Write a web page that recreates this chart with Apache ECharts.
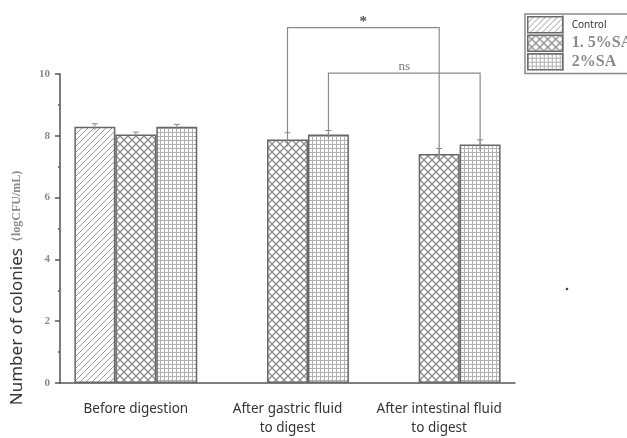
<!DOCTYPE html>
<html>
<head>
<meta charset="utf-8">
<script src="https://cdn.jsdelivr.net/npm/echarts@6/dist/echarts.min.js"></script>
<style>
  html, body { margin: 0; padding: 0; background: #fff; }
  #chart { width: 627px; height: 438px; }
</style>
</head>
<body>
<div id="chart"></div>
<script>
// Viable colony counts (logCFU/mL) through simulated digestion
const categories = ['Before digestion', 'After gastric fluid\nto digest', 'After intestinal fluid\nto digest'];
const seriesNames = ['Control', '1. 5%SA', '2%SA'];
const controlValues = [8.29, null, null];
const sa15Values = [8.04, 7.88, 7.41];
const sa2Values = [8.29, 8.04, 7.72];
const controlErrors = [0.1, null, null];
const sa15Errors = [0.08, 0.22, 0.18];
const sa2Errors = [0.08, 0.13, 0.15];
const yTickValues = [0, 2, 4, 6, 8, 10];

// Significance brackets: [category, series index] at each end
const bracketLabels = ['*', 'ns'];
const bracketFrom = [[1, 1], [1, 2]];
const bracketTo = [[2, 1], [2, 2]];
const bracketLevels = [11.5, 10.03];
const bracketFromEnds = [7.7, 7.9];
const bracketToEnds = [7.2, 7.5];

const BAR_FRACTION = 0.27;

// Hatch fills drawn on small canvas tiles
function makeTile(size, draw) {
  const c = document.createElement('canvas');
  c.width = size; c.height = size;
  const ctx = c.getContext('2d');
  ctx.fillStyle = '#ffffff';
  ctx.fillRect(0, 0, size, size);
  draw(ctx, size);
  return { image: c, repeat: 'repeat' };
}
const diagonalFill = makeTile(6, function (ctx, s) {
  ctx.strokeStyle = '#9a9a9a';
  ctx.lineWidth = 1;
  ctx.beginPath();
  ctx.moveTo(-1, s + 1); ctx.lineTo(s + 1, -1);
  ctx.moveTo(-1, 1); ctx.lineTo(1, -1);
  ctx.moveTo(s - 1, s + 1); ctx.lineTo(s + 1, s - 1);
  ctx.stroke();
});
const crossFill = makeTile(8, function (ctx, s) {
  ctx.strokeStyle = '#8c8c8c';
  ctx.lineWidth = 1.3;
  ctx.beginPath();
  ctx.moveTo(0, 0); ctx.lineTo(s, s);
  ctx.moveTo(0, s); ctx.lineTo(s, 0);
  ctx.stroke();
});
const gridFill = makeTile(4, function (ctx, s) {
  ctx.fillStyle = '#b0b0b0';
  ctx.fillRect(0, 0, s, 1);
  ctx.fillRect(0, 0, 1, s);
});
const fills = [diagonalFill, crossFill, gridFill];
const valueSets = [controlValues, sa15Values, sa2Values];
const errorSets = [controlErrors, sa15Errors, sa2Errors];

function barCenter(api, cat, idx, val) {
  const p = api.coord([cat, val]);
  const band = api.size([1, 0])[0];
  return [p[0] + (idx - 1) * band * BAR_FRACTION, p[1]];
}

const barSeries = seriesNames.map(function (name, i) {
  return {
    name: name,
    type: 'bar',
    barWidth: (BAR_FRACTION * 100) + '%',
    barGap: '0%',
    data: valueSets[i],
    itemStyle: { color: fills[i], borderColor: '#666', borderWidth: 1.5 },
    emphasis: { disabled: true },
    z: 2
  };
});

const errorSeries = seriesNames.map(function (name, i) {
  const data = [];
  valueSets[i].forEach(function (v, c) {
    if (v != null) data.push([c, v, errorSets[i][c]]);
  });
  return {
    type: 'custom',
    data: data,
    z: 4,
    silent: true,
    renderItem: function (params, api) {
      const c = api.value(0), v = api.value(1), e = api.value(2);
      const top = barCenter(api, c, i, v + e);
      const bot = barCenter(api, c, i, v - e);
      const w = 3;
      return {
        type: 'group',
        children: [
          { type: 'line', shape: { x1: top[0], y1: top[1], x2: bot[0], y2: bot[1] }, style: { stroke: '#888', lineWidth: 1 } },
          { type: 'line', shape: { x1: top[0] - w, y1: top[1], x2: top[0] + w, y2: top[1] }, style: { stroke: '#888', lineWidth: 1 } }
        ]
      };
    }
  };
});

const bracketData = bracketLabels.map(function (lbl, k) {
  return [bracketFrom[k][0], bracketFrom[k][1], bracketTo[k][0], bracketTo[k][1],
          bracketLevels[k], bracketFromEnds[k], bracketToEnds[k], k];
});

const bracketSeries = {
  type: 'custom',
  data: bracketData,
  clip: false,
  silent: true,
  z: 5,
  renderItem: function (params, api) {
    const a = barCenter(api, api.value(0), api.value(1), api.value(5));
    const b = barCenter(api, api.value(2), api.value(3), api.value(6));
    const topY = api.coord([0, api.value(4)])[1];
    const k = api.value(7);
    const isStar = bracketLabels[k] === '*';
    return {
      type: 'group',
      children: [
        { type: 'polyline', shape: { points: [[a[0], a[1]], [a[0], topY], [b[0], topY], [b[0], b[1]]] },
          style: { stroke: '#8a8a8a', lineWidth: 1.2, fill: null } },
        { type: 'text', style: {
            text: bracketLabels[k], x: (a[0] + b[0]) / 2, y: topY - (isStar ? 6 : 6),
            align: 'center', verticalAlign: 'middle',
            font: isStar ? 'bold 15px "Liberation Serif"' : '13px "Liberation Serif"',
            fill: isStar ? '#555' : '#777' } }
      ]
    };
  }
};

const chart = echarts.init(document.getElementById('chart'), null, { renderer: 'canvas' });
chart.setOption({
  animation: false,
  backgroundColor: '#ffffff',
  grid: { left: 60, right: 112, top: 74, bottom: 48, containLabel: false },
  legend: {
    orient: 'vertical',
    left: 525, top: 14,
    padding: [2, 60, 3, 2],
    itemGap: 1,
    itemWidth: 35, itemHeight: 16,
    icon: 'rect',
    borderColor: '#8a8a8a', borderWidth: 1.5,
    selectedMode: false,
    data: [
      { name: 'Control', textStyle: { fontFamily: 'Noto Sans', fontSize: 10, color: '#333', padding: [0, 0, 0, 4] } },
      { name: '1. 5%SA', textStyle: { fontFamily: 'Liberation Serif', fontSize: 16, fontWeight: 'bold', color: '#8a8a8a', padding: [0, 0, 0, 4] } },
      { name: '2%SA', textStyle: { fontFamily: 'Liberation Serif', fontSize: 16, fontWeight: 'bold', color: '#8a8a8a', padding: [0, 0, 0, 4] } }
    ],
    itemStyle: { borderColor: '#6a6a6a', borderWidth: 1.5 }
  },
  xAxis: {
    type: 'category',
    data: categories,
    axisLine: { lineStyle: { color: '#555', width: 1.5 } },
    axisTick: { show: false },
    axisLabel: { color: '#333', fontFamily: 'Noto Sans', fontSize: 13.5, lineHeight: 19, margin: 17, interval: 0 }
  },
  yAxis: {
    type: 'value',
    min: yTickValues[0], max: yTickValues[yTickValues.length - 1], interval: 2,
    axisLine: { show: true, lineStyle: { color: '#555', width: 1.5 } },
    axisTick: { show: true, length: 5, lineStyle: { color: '#555', width: 1.5 } },
    minorTick: { show: true, splitNumber: 2, length: 2, lineStyle: { color: '#555', width: 1.5 } },
    splitLine: { show: false },
    axisLabel: { color: '#8a8a8a', fontFamily: 'Liberation Serif', fontWeight: 'bold', fontSize: 11, margin: 10 }
  },
  series: barSeries.concat(errorSeries, [bracketSeries]),
  graphic: [
    {
      type: 'text',
      x: 17, y: 288,
      rotation: Math.PI / 2,
      style: {
        text: '{a|Number of colonies}{b|（logCFU/mL)}',
        align: 'center', verticalAlign: 'middle',
        rich: {
          a: { fontFamily: 'Noto Sans', fontSize: 17, fill: '#333' },
          b: { fontFamily: 'Liberation Serif', fontSize: 12, fontWeight: 'bold', fill: '#8a8a8a' }
        }
      }
    },
    { type: 'line', shape: { x1: 563, y1: 15, x2: 563, y2: 71 }, style: { stroke: '#8a8a8a', lineWidth: 1 } },
    { type: 'circle', shape: { cx: 567, cy: 289, r: 1.3 }, style: { fill: '#444' } }
  ]
});
</script>
</body>
</html>
